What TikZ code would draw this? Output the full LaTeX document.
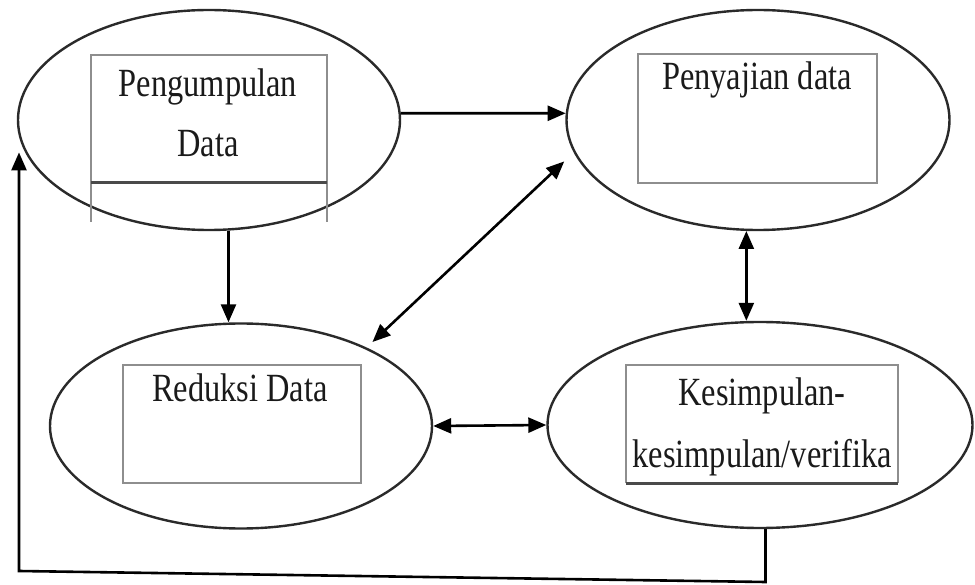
\documentclass[tikz,border=0pt]{standalone}
\usepackage{fontspec}
\setmainfont{Liberation Serif}
\usepackage{graphicx}
\usetikzlibrary{shapes.geometric,arrows.meta}
\definecolor{ink}{HTML}{1A1A1A}
\definecolor{rim}{HTML}{2A2A2A}
\definecolor{boxline}{HTML}{8E8E8E}
\newcommand{\sx}[1]{\scalebox{0.81}[1]{#1}}
\tikzset{
  oval/.style={ellipse, draw=rim, line width=2.4pt, inner sep=0pt},
  lbl/.style={anchor=base, inner sep=0pt, text=ink, font=\fontsize{40}{48}\selectfont},
  inbox/.style={draw=boxline, line width=1.1pt},
  boxfoot/.style={draw=rim!85, line width=3pt},
  conn/.style={draw=black, line width=2.6pt},
  arr/.style={conn, -{Triangle[length=18pt,width=15pt]}},
  darr/.style={conn, {Triangle[length=18pt,width=15pt]}-{Triangle[length=18pt,width=15pt]}}
}
\begin{document}
\begin{tikzpicture}[x=1pt,y=-1pt]
\useasboundingbox (0,0) rectangle (975,585);
\fill[white] (0,0) rectangle (975,585);

% ellipses
\node[oval, minimum width=382pt, minimum height=220pt] (e1) at (209,120) {};
\node[oval, minimum width=383pt, minimum height=220pt] (e2) at (758,120) {};
\node[oval, minimum width=382pt, minimum height=205pt] (e3) at (241,426) {};
\node[oval, minimum width=425pt, minimum height=206pt] (e4) at (760,425) {};

% inner boxes
\draw[inbox] (91,222) -- (91,55) -- (327,55) -- (327,222);
\draw[boxfoot] (91,183) -- (327,183);
\draw[inbox] (638,54) rectangle (877,183);
\draw[inbox] (123,365) rectangle (361,483);
\draw[inbox] (626,483) -- (626,365) -- (898,365) -- (898,483);
\draw[boxfoot] (626,483) -- (898,483);

% labels
\node[lbl] (t1a) at (208,97) {\sx{Pengumpulan}};
\node[lbl] (t1b) at (208,157) {\sx{Data}};
\node[lbl] (t2) at (757,90) {\sx{Penyajian data}};
\node[lbl] (t3) at (240,402) {\sx{Reduksi Data}};
\node[lbl] (t4a) at (762,406) {\sx{Kesimpulan-}};
\node[lbl] (t4b) at (762,467) {\sx{kesimpulan/verifika}};

% connectors
\draw[arr] (e1.2) -- (e2.178);
\draw[arr] (e1.-80) -- (e1.-80 |- e3.north);
\draw[darr] (e2.-96) -- (e2.-96 |- e4.north);
\draw[darr] (e3.east) -- (e4.west);
\draw[darr, shorten <=8pt, shorten >=13pt] (e3.32) -- (e2.190);

\coordinate (fb1) at (766,582);
\coordinate (fb2) at (19,571);
\draw[arr] (e4.-87) -- (e4.-87 |- fb1) -- (fb2) -- (fb2 |- e1.190);
\end{tikzpicture}
\end{document}
